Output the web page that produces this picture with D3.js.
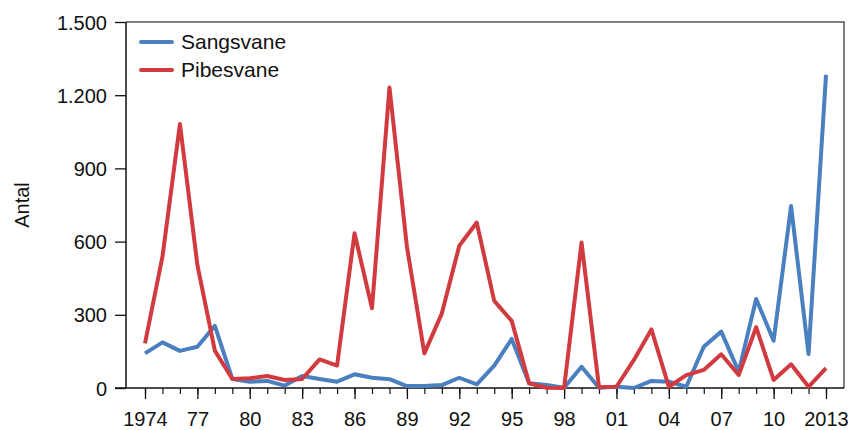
<!DOCTYPE html>
<html>
<head>
<meta charset="utf-8">
<script src="https://cdn.jsdelivr.net/npm/d3@7"></script>
<style>
  body { margin: 0; background: #fff; }
  text { font-family: "Liberation Sans", Arial, sans-serif; fill: #111; }
</style>
</head>
<body>
<script>
// data
var years = d3.range(1974, 2014);
var sangsvane = [142, 187, 152, 169, 255, 37, 26, 29, 10, 49, 37, 26, 56, 42, 36, 8, 8, 12, 42, 15,
                 92, 201, 19, 12, 1, 87, 1, 5, 0, 29, 26, 5, 169, 231, 67, 365, 194, 746, 139, 1283];
var pibesvane = [183, 538, 1082, 504, 153, 37, 40, 49, 33, 37, 117, 92, 634, 327, 1232, 579, 142, 306, 583, 678,
                 357, 275, 19, 1, 0, 596, 3, 5, 115, 240, 5, 53, 74, 138, 53, 249, 33, 97, 5, 81];
var yTicks = [0, 300, 600, 900, 1200, 1500];
var xMajor = d3.range(1974, 2014, 3);
var seriesNames = ["Sangsvane", "Pibesvane"];
var colors = ["#4a7fc0", "#d13b40"];

var width = 856, height = 430;
var mLeft = 126, mRight = 844, mTop = 22, mBottom = 388;

var svg = d3.select("body").append("svg")
  .attr("width", width)
  .attr("height", height);

var x = d3.scaleLinear().domain([1974, 2013]).range([145, 826]);
var y = d3.scaleLinear().domain([0, 1500]).range([mBottom, mTop]);

// frame top/right
svg.append("path")
  .attr("d", "M" + mLeft + "," + mTop + "H" + mRight + "V" + mBottom)
  .attr("fill", "none")
  .attr("stroke", "#555")
  .attr("stroke-width", 1.5);

// y axis
var yAxis = d3.axisLeft(y)
  .tickValues(yTicks)
  .tickSize(11)
  .tickPadding(8)
  .tickFormat(function(d){ return d3.format(",")(d).replace(/,/g, "."); });

var gy = svg.append("g")
  .attr("transform", "translate(" + mLeft + ",0)")
  .call(yAxis);
gy.attr("font-size", null).attr("font-family", null);
gy.select(".domain").attr("d", "M0," + mTop + "V" + mBottom).attr("stroke", "#111").attr("stroke-width", 1.5);
gy.selectAll(".tick line").attr("stroke", "#111").attr("stroke-width", 1.3);
gy.selectAll("text").style("font-size", "20px").attr("dy", "0.35em");

// x axis, minor ticks
var xMinor = d3.axisBottom(x).tickValues(years).tickSize(6).tickFormat("");
var gxm = svg.append("g").attr("transform", "translate(0," + mBottom + ")").call(xMinor);
gxm.select(".domain").remove();
gxm.selectAll(".tick line").attr("stroke", "#111").attr("stroke-width", 1.2);

// x axis, major ticks
var xAxis = d3.axisBottom(x)
  .tickValues(xMajor)
  .tickSize(11)
  .tickPadding(13)
  .tickFormat(function(d){ return (d == 1974 || d == 2013) ? d : d3.format("02")(d % 100); });
var gx = svg.append("g").attr("transform", "translate(0," + mBottom + ")").call(xAxis);
gx.attr("font-size", null).attr("font-family", null);
gx.select(".domain").attr("d", "M" + (mLeft - 11) + ",0H" + mRight).attr("stroke", "#111").attr("stroke-width", 1.5);
gx.selectAll(".tick line").attr("stroke", "#111").attr("stroke-width", 1.3);
gx.selectAll("text").style("font-size", "20px");

// axis title
svg.append("text")
  .attr("transform", "translate(29,205) rotate(-90)")
  .attr("text-anchor", "middle")
  .style("font-size", "20px")
  .text("Antal");

// lines
var line = d3.line()
  .x(function(d, i){ return x(years[i]); })
  .y(function(d){ return y(d); });

[sangsvane, pibesvane].forEach(function(s, i){
  svg.append("path")
    .datum(s)
    .attr("d", line)
    .attr("fill", "none")
    .attr("stroke", colors[i])
    .attr("stroke-width", 4)
    .attr("stroke-linejoin", "round");
});

// legend
var legend = svg.append("g");
seriesNames.forEach(function(n, i){
  var ly = 42 + i * 28;
  legend.append("line")
    .attr("x1", 141).attr("x2", 172)
    .attr("y1", ly).attr("y2", ly)
    .attr("stroke", colors[i])
    .attr("stroke-width", 4)
    .attr("stroke-linecap", "round");
  legend.append("text")
    .attr("x", 181).attr("y", ly)
    .attr("dy", "0.35em")
    .style("font-size", "21px")
    .text(n);
});
</script>
</body>
</html>
